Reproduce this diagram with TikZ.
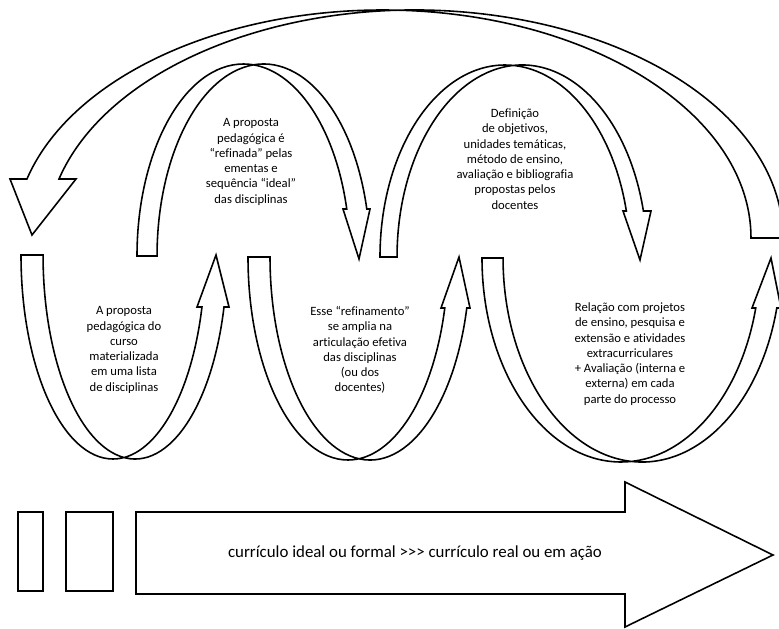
\documentclass[tikz,border=0pt]{standalone}
\usepackage{fontspec}
\setmainfont{Carlito}[Ligatures={NoCommon}]
\usepackage{tikz}

\begin{document}
\begin{tikzpicture}[
      x=0.02cm, y=0.02cm,
      loop/.style={draw=black, line width=0.9pt, fill=white, line join=miter},
      txt/.style={align=center, inner sep=0pt, font=\fontsize{7.2}{8.7}\selectfont},
      bigtxt/.style={inner sep=0pt, font=\fontsize{9.6}{11.5}\selectfont}
    ]
    \useasboundingbox (0,0) rectangle (779,-629);
    \clip (0,0) rectangle (779,-629);

    %% Big arc back to the start
    \draw[loop] (751,-238) arc[start angle=0, end angle=165, x radius=368.3, y radius=228]
      -- (10,-179) -- (32,-235) -- (76,-179) -- (59,-179)
      arc[start angle=165, end angle=0, x radius=368.3, y radius=228] -- cycle;

    %% Lower loops
    \draw[loop] (21,-255) arc[start angle=180, end angle=345.23, x radius=92, y radius=204]
      -- (197,-307) -- (216,-255) -- (229,-307) -- (224,-307)
      arc[start angle=345.23, end angle=180, x radius=92, y radius=204] -- cycle;
    \draw[loop] (248,-257) arc[start angle=180, end angle=345.45, x radius=100, y radius=203]
      -- (441,-308) -- (459,-257) -- (470,-308) -- (466.8,-308)
      arc[start angle=345.45, end angle=180, x radius=100, y radius=203] -- cycle;
    \draw[loop] (482,-258) arc[start angle=180, end angle=345.81, x radius=139, y radius=204]
      -- (752,-308) -- (771,-258) -- (781,-308) -- (776.8,-308)
      arc[start angle=345.81, end angle=180, x radius=139, y radius=204] -- cycle;

    %% Upper loops
    \draw[loop] (137,-256) arc[start angle=180, end angle=14.17, x radius=106.5, y radius=192]
      -- (343,-209) -- (359,-259) -- (370,-209) -- (366.8,-209)
      arc[start angle=14.17, end angle=180, x radius=106.5, y radius=192] -- cycle;
    \draw[loop] (380,-257) arc[start angle=180, end angle=13.86, x radius=125, y radius=192]
      -- (623,-211) -- (640,-260) -- (651,-211) -- (643.4,-211)
      arc[start angle=13.86, end angle=180, x radius=125, y radius=192] -- cycle;

    %% Bottom arrow
    \draw[loop] (18,-512) rectangle (43,-591);
    \draw[loop] (66,-512) rectangle (113,-591);
    \draw[loop] (136,-512) -- (625,-512) -- (625,-482) -- (773,-555)
      -- (625,-627) -- (625,-594) -- (136,-594) -- cycle;

    \node[txt] (lista) at (124,-350) {A proposta\\pedagógica do\\curso\\materializada\\em uma lista\\de disciplinas};
    \node[txt] (ementas) at (251,-162) {A proposta\\pedagógica é\\“refinada” pelas\\ementas e\\sequência “ideal”\\das disciplinas};
    \node[txt] (articulacao) at (360,-350) {Esse “refinamento”\\se amplia na\\articulação efetiva\\das disciplinas\\(ou dos\\docentes)};
    \node[txt] (planos) at (515,-159) {Definição\\de objetivos,\\unidades temáticas,\\método de ensino,\\avaliação e bibliografia\\propostas pelos\\docentes};
    \node[txt] (projetos) at (630,-354) {Relação com projetos\\de ensino, pesquisa e\\extensão e atividades\\extracurriculares\\+ Avaliação (interna e\\externa) em cada\\parte do processo};
    \node[bigtxt] (eixo) at (415,-553) {currículo ideal ou formal >{}>{}> currículo real ou em ação};
  \end{tikzpicture}
\end{document}
